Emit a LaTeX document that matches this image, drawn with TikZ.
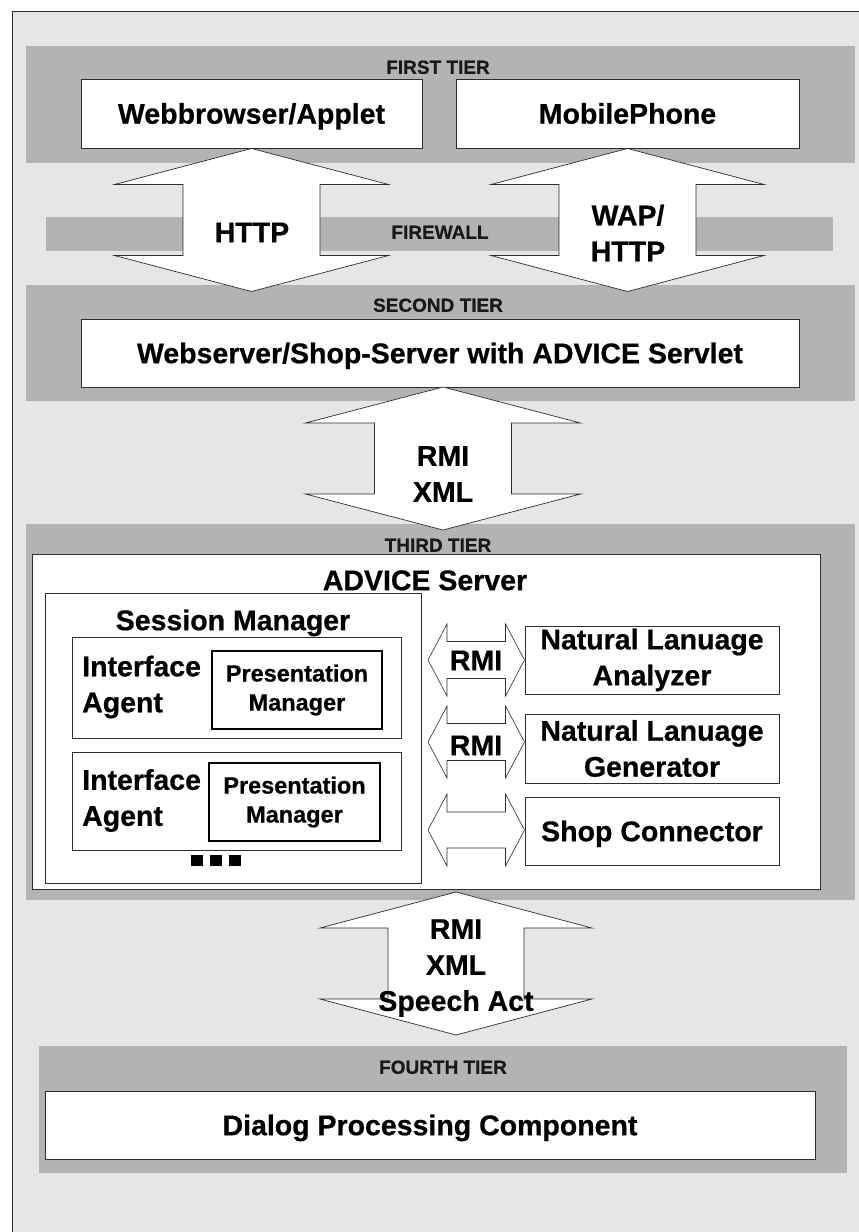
\documentclass[tikz,border=0pt]{standalone}
\usepackage{fontspec}
\setmainfont{Liberation Sans}[BoldFeatures={FakeBold=0.6}]
\usetikzlibrary{calc}
\definecolor{bglight}{RGB}{230,230,230}
\definecolor{bandgray}{RGB}{179,179,179}
\definecolor{edge}{RGB}{45,45,45}
\newcommand{\vdarrow}[5]{% top tip, bottom tip, head half, shaft half, head length
  \draw[bigarrow] let \p1=(#1), \p2=(#2) in
    (\x1,\y1) -- (\x1+#3pt,\y1-#5pt) -- (\x1+#4pt,\y1-#5pt) -- (\x1+#4pt,\y2+#5pt)
    -- (\x1+#3pt,\y2+#5pt) -- (\x1,\y2) -- (\x1-#3pt,\y2+#5pt) -- (\x1-#4pt,\y2+#5pt)
    -- (\x1-#4pt,\y1-#5pt) -- (\x1-#3pt,\y1-#5pt) -- cycle;}
\newcommand{\hdarrow}[5]{% left tip, right tip, head half, shaft half, head length
  \draw[smallarrow] let \p1=(#1), \p2=(#2) in
    (\x1,\y1) -- (\x1+#5pt,\y1+#3pt) -- (\x1+#5pt,\y1+#4pt) -- (\x2-#5pt,\y1+#4pt)
    -- (\x2-#5pt,\y1+#3pt) -- (\x2,\y1) -- (\x2-#5pt,\y1-#3pt) -- (\x2-#5pt,\y1-#4pt)
    -- (\x1+#5pt,\y1-#4pt) -- (\x1+#5pt,\y1-#3pt) -- cycle;}
\begin{document}
\begin{tikzpicture}[x=1pt,y=-1pt,
  bandbox/.style={fill=bandgray, draw=none},
  box/.style={draw=edge, line width=1pt, fill=white, inner sep=0},
  pmbox/.style={draw=black, line width=1.6pt, fill=white, inner sep=0},
  big/.style={font=\fontsize{28.5}{36}\selectfont\bfseries, align=center, inner sep=0},
  one/.style={text height=20.4pt, text depth=0pt},
  tier/.style={font=\fontsize{19}{22}\selectfont\bfseries, inner sep=0, text=black!90, text height=13.6pt, text depth=0pt},
  pmtext/.style={font=\fontsize{23.5}{29}\selectfont\bfseries, align=center, inner sep=0},
  bigarrow/.style={draw=edge, line width=0.7pt, fill=white, line join=miter},
  smallarrow/.style={draw=edge, line width=0.6pt, fill=white, line join=miter},
]
\useasboundingbox (0,0) rectangle (859,1232);
% background
\fill[bglight] (12,11) rectangle (859,1232);
\draw[edge, line width=1pt] (12,1232) -- (12,11) -- (859,11);
% bands
\fill[bandbox] (26,46) rectangle (855,163);
\fill[bandbox] (46,217) rectangle (833,251);
\fill[bandbox] (26,285) rectangle (855,401);
\fill[bandbox] (26,524) rectangle (855,900);
\fill[bandbox] (39,1046) rectangle (847,1173);
% tier labels
\node[tier] (t1) at (438,67) {FIRST TIER};
\node[tier] (fw) at (440,232) {FIREWALL};
\node[tier] (t2) at (438,305) {SECOND TIER};
\node[tier] (t3) at (438,545) {THIRD TIER};
\node[tier] (t4) at (443,1067) {FOURTH TIER};
% first tier
\node[box, big, one, minimum width=341, minimum height=69] (wb) at (251.5,113.5) {Webbrowser/Applet};
\node[box, big, one, minimum width=343, minimum height=69] (mp) at (627.5,113.5) {MobilePhone};
% second tier
\node[box, big, one, minimum width=718, minimum height=68] (ws) at (440,353) {Webserver/Shop-Server with ADVICE Servlet};
% third tier
\node[box, minimum width=788, minimum height=335] (adv) at (426,721.5) {};
\node[big, one] (advt) at (425,580) {ADVICE Server};
\node[box, minimum width=376, minimum height=290] (sm) at (233,738) {};
\node[big, one] (smt) at (233,620) {Session Manager};
\node[box, minimum width=329, minimum height=101] (ia1) at (236.5,687.5) {};
\node[big, align=left, anchor=west] (ia1t) at (82,687) {Interface\\Agent};
\node[pmbox, pmtext, minimum width=170, minimum height=78] (pm1) at (297,690) {Presentation\\Manager};
\node[box, minimum width=329, minimum height=98] (ia2) at (236.5,801) {};
\node[big, align=left, anchor=west] (ia2t) at (82,800.5) {Interface\\Agent};
\node[pmbox, pmtext, minimum width=171, minimum height=78] (pm2) at (294.5,802) {Presentation\\Manager};
\fill[black] (191,855) rectangle (203,866);
\fill[black] (210,855) rectangle (222,866);
\fill[black] (229,855) rectangle (241,866);
\node[box, big, minimum width=254, minimum height=68] (nla) at (652,660) {Natural Lanuage\\Analyzer};
\node[box, big, minimum width=254, minimum height=69] (nlg) at (652,748.5) {Natural Lanuage\\Generator};
\node[box, big, one, minimum width=254, minimum height=68] (sc) at (652,831) {Shop Connector};
% fourth tier
\node[box, big, one, minimum width=770, minimum height=68] (dpc) at (430,1125) {Dialog Processing Component};
% big double arrows
\coordinate (httpb) at ($(wb.south)+(0,143)$);
\coordinate (wapb) at ($(mp.south)+(0,143)$);
\coordinate (rmit) at (443,387);
\coordinate (rmib) at (443,530);
\coordinate (spt) at (456,892);
\coordinate (spb) at (456,1035);
\vdarrow{wb.south}{httpb}{137}{68.5}{36}
\vdarrow{mp.south}{wapb}{136.5}{68.5}{36}
\vdarrow{rmit}{rmib}{137.5}{68.5}{36}
\vdarrow{spt}{spb}{136}{68}{36}
\node[big, one] (httpl) at (252,232) {HTTP};
\node[big] (wapl) at (628,233) {WAP/\\HTTP};
\node[big] (rmil) at (443,474) {RMI\\XML};
\node[big] (spl) at (456,968) {RMI\\XML\\Speech Act};
% small double arrows
\coordinate (a1) at (428,660);
\coordinate (a2) at (428,742);
\coordinate (a3) at (428,830);
\hdarrow{a1}{nla.west}{36}{18.5}{19}
\hdarrow{a2}{nla.west |- a2}{36}{18.5}{19}
\hdarrow{a3}{nla.west |- a3}{36}{18}{19}
\node[big, one] (r1) at (476,660) {RMI};
\node[big, one] (r2) at (476,745) {RMI};
\end{tikzpicture}
\end{document}
